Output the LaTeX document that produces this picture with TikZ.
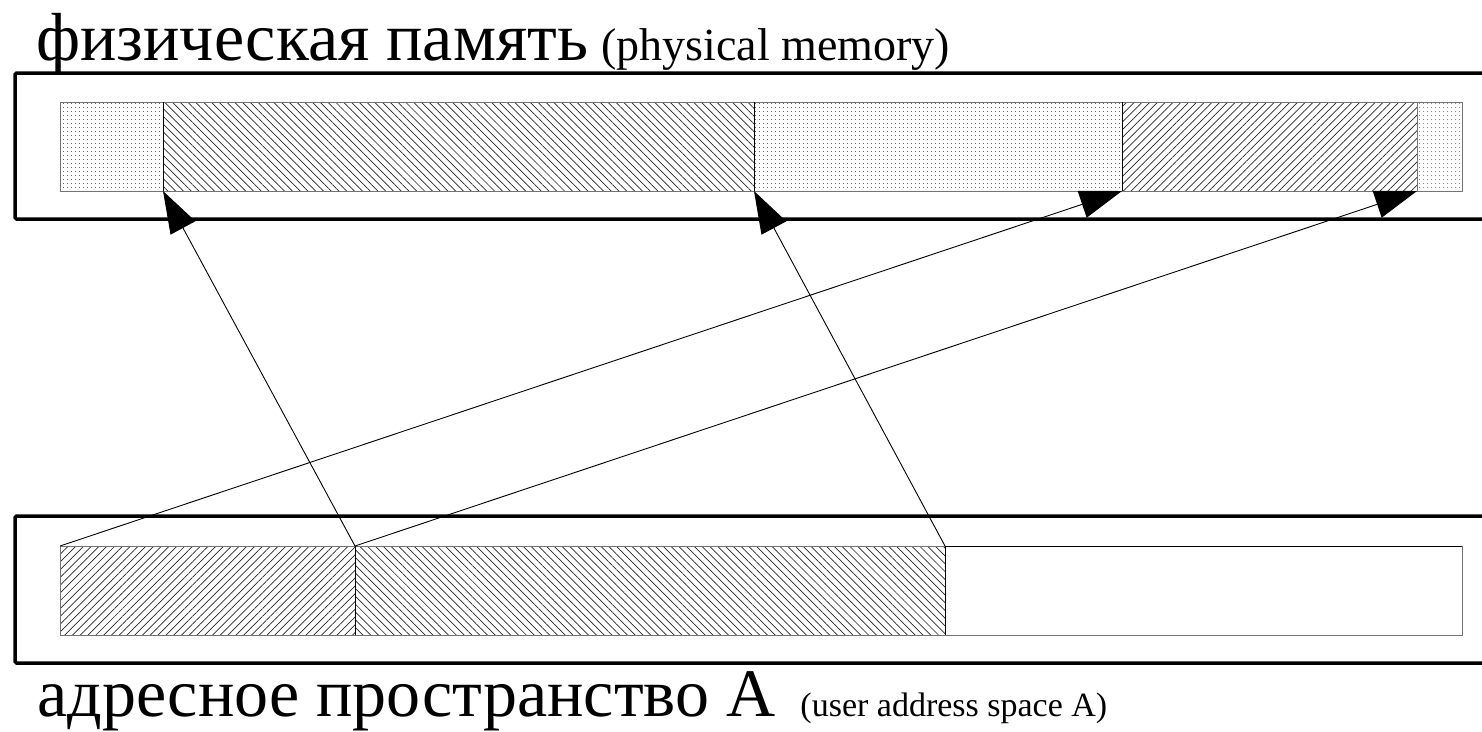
\documentclass[tikz,border=0pt]{standalone}
\usepackage{fontspec}
\setmainfont{Liberation Serif}
\usetikzlibrary{patterns.meta,arrows.meta}
\begin{document}
\begin{tikzpicture}[x=1pt,y=-1pt,
  seg/.style={draw=black!55, line width=1pt, inner sep=0pt, outer sep=0pt, anchor=north west, minimum height=89pt},
  dotfill/.style={pattern={Dots[radius=0.6pt,distance=4pt]}, pattern color=black!80},
  fwd/.style={pattern={Lines[angle=45,distance=5.5pt,line width=0.7pt]}, pattern color=black!85},
  bwd/.style={pattern={Lines[angle=-45,distance=5.5pt,line width=0.7pt]}, pattern color=black!85},
  frame/.style={draw, line width=3.5pt, rounded corners=1.5pt},
  divider/.style={draw=black, line width=1pt},
  map/.style={draw=black, line width=0.9pt, -{Triangle[length=42pt,width=28pt]}},
  bigtxt/.style={inner sep=0pt, anchor=base west}
]
\useasboundingbox (0,0) rectangle (1482,731);
\clip (0,0) rectangle (1482,731);

% outer frames
\draw[frame] (15,73) rectangle (1520,219);
\draw[frame] (15,516) rectangle (1520,663);

% physical memory segments
\node[seg, dotfill, minimum width=103pt] (p1) at (60,102) {};
\node[seg, bwd,     minimum width=591pt] (p2) at (163,102) {};
\node[seg, dotfill, minimum width=368pt] (p3) at (754,102) {};
\node[seg, fwd,     minimum width=295pt] (p4) at (1122,102) {};
\node[seg, dotfill, minimum width=45pt]  (p5) at (1417,102) {};

% address space segments
\node[seg, fwd, minimum width=295pt] (b1) at (60,546) {};
\node[seg, bwd, minimum width=590pt] (b2) at (355,546) {};
\node[seg, fill=white, minimum width=517pt] (b3) at (945,546) {};

% dividers
\draw[divider] (p2.north west) -- (p2.south west);
\draw[divider] (p3.north west) -- (p3.south west);
\draw[divider] (p4.north west) -- (p4.south west);
\draw[divider] (b2.north west) -- (b2.south west);
\draw[divider] (b3.north west) -- (b3.south west);
\draw[divider] (b3.north west) -- (b3.north east);

% mappings
\draw[map] (b2.north west) -- (p2.south west);
\draw[map] (b3.north west) -- (p3.south west);
\draw[map] (b1.north west) -- (p4.south west);
\draw[map] (b2.north west) -- (p5.south west);

% labels
\node[bigtxt] (tphys) at (36,60) {{\fontsize{68pt}{68pt}\selectfont физическая память}\hspace{13pt}{\fontsize{46pt}{46pt}\selectfont (physical memory)}};
\node[bigtxt] (tuser) at (37,716) {{\fontsize{68pt}{68pt}\selectfont адресное пространство A}\hspace{25pt}{\fontsize{34pt}{34pt}\selectfont (user address space A)}};
\end{tikzpicture}
\end{document}
